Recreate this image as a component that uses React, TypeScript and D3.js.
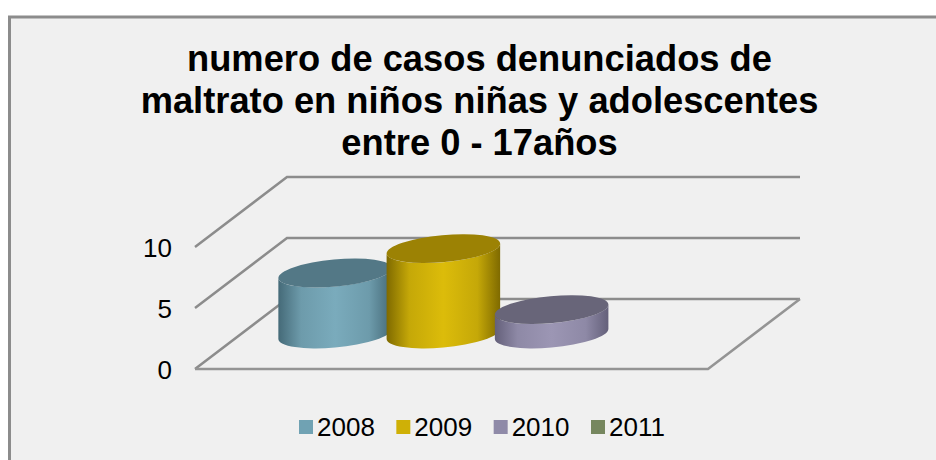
import React from "react";
import * as d3 from "d3";

const titleLines = ["numero de casos denunciados de", "maltrato en niños niñas y adolescentes", "entre 0 - 17años"];
const seriesNames = ["2008", "2009", "2010", "2011"];
const seriesValues = [5, 7, 2, 0];
const legendColors = ["#70a2b3", "#cfb006", "#8f8aa8", "#76875f"];
const topColors = ["#537886", "#9c8204", "#686579", "#5a6848"];
const edgeColors = ["#456a78", "#7f6a00", "#64607a", "#5a6848"];
const midColors = ["#7aabbc", "#dcbc0a", "#9c96b4", "#76875f"];
const yTicks = [0, 5, 10];

const W = 936, H = 460;
const DX = 92, DY = -70;
const FONT = "'Liberation Sans', Arial, sans-serif";

const y = d3.scaleLinear().domain([0, 10]).range([369, 247]);
const floorX = d3.scaleLinear().domain([0, 1]).range([195, 708]);
const barX = d3.scaleBand().domain(seriesNames).range([281, 714]);
const barH = d3.scaleLinear().domain([0, 10]).range([0, 122]);
const legendX = d3.scalePoint().domain(seriesNames).range([299, 591]);

const A = 57, B = 13.5, ROT = -5.3, BASE = 334;
const th = (ROT * Math.PI) / 180;
const HW = Math.sqrt(A * A * Math.cos(th) ** 2 + B * B * Math.sin(th) ** 2);
const OFF = ((A * A - B * B) * Math.sin(-th) * Math.cos(th)) / HW;

export default function App() {
  const wall = d3.line();
  return (
    <svg width={W} height={H} style={{ position: "absolute", left: 0, top: 0 }} fontFamily={FONT}>
      <defs>
        {seriesNames.map((s, i) => (
          <linearGradient key={s} id={`g${i}`} x1="0" x2="1" y1="0" y2="0">
            <stop offset="0" stopColor={edgeColors[i]} />
            <stop offset="0.2" stopColor={d3.interpolateRgb(edgeColors[i], midColors[i])(0.75)} />
            <stop offset="0.5" stopColor={midColors[i]} />
            <stop offset="0.8" stopColor={d3.interpolateRgb(edgeColors[i], midColors[i])(0.75)} />
            <stop offset="1" stopColor={edgeColors[i]} />
          </linearGradient>
        ))}
      </defs>
      <rect x={0} y={0} width={W} height={H} fill="#ffffff" />
      <rect x={9.5} y={17} width={W} height={H} fill="#f0f0f0" stroke="#8c8c8c" strokeWidth={3} />
      {titleLines.map((t, i) => (
        <text key={t} x={479.5} y={71 + i * 42} textAnchor="middle" fontSize={36.3} fontWeight="bold" fill="#000">{t}</text>
      ))}
      {yTicks.map((t) => (
        <g key={t}>
          <path
            d={wall([[floorX(0), y(t)], [floorX(0) + DX, y(t) + DY], [floorX(1) + DX, y(t) + DY]]) ?? ""}
            fill="none" stroke="#8c8c8c" strokeWidth={2.5}
          />
          <text x={172} y={y(t) + 10} textAnchor="end" fontSize={26} fill="#000">{t}</text>
        </g>
      ))}
      <path
        d={wall([[floorX(0), y(0)], [floorX(1), y(0)], [floorX(1) + DX, y(0) + DY]]) ?? ""}
        fill="none" stroke="#949494" strokeWidth={2.5}
      />
      {seriesNames.map((s, i) => {
        const v = seriesValues[i];
        if (!v) return null;
        const cx = (barX(s) ?? 0) + barX.bandwidth() / 2;
        const bot = BASE, top = BASE - barH(v);
        const lx = cx - HW, rx = cx + HW;
        const d = `M${lx},${top + OFF}L${lx},${bot + OFF}A${A},${B},${ROT},0,0,${rx},${bot - OFF}L${rx},${top - OFF}A${A},${B},${ROT},0,1,${lx},${top + OFF}Z`;
        return (
          <g key={s}>
            <path d={d} fill={`url(#g${i})`} />
            <ellipse cx={cx} cy={top} rx={A} ry={B} transform={`rotate(${ROT} ${cx} ${top})`} fill={topColors[i]} />
          </g>
        );
      })}
      {seriesNames.map((s, i) => (
        <g key={s}>
          <rect x={legendX(s)} y={420} width={14} height={14} fill={legendColors[i]} />
          <text x={(legendX(s) ?? 0) + 18} y={436} fontSize={26} fill="#000">{s}</text>
        </g>
      ))}
    </svg>
  );
}
